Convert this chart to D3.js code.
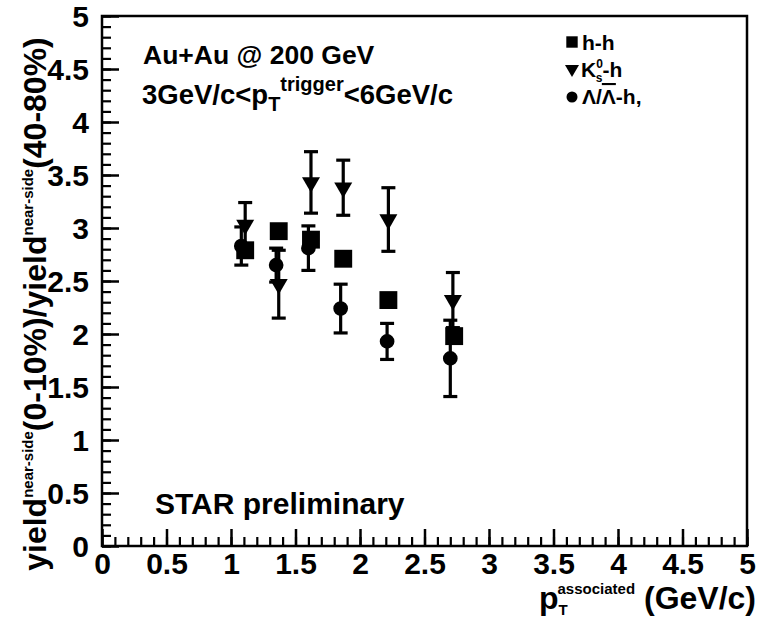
<!DOCTYPE html>
<html><head><meta charset="utf-8">
<script src="https://cdn.jsdelivr.net/npm/d3@7"></script>
<style>
body{margin:0;background:#fff;}
text{font-family:"Liberation Sans",Arial,sans-serif;font-weight:bold;fill:#000;}
</style></head>
<body><svg id="c" width="762" height="618"></svg>
<script>
// data
const xMajorTicks=[0,0.5,1,1.5,2,2.5,3,3.5,4,4.5,5];
const yMajorTicks=[0,0.5,1,1.5,2,2.5,3,3.5,4,4.5,5];
const xMinorTicks=d3.range(0,5.001,0.1);
const yMinorTicks=d3.range(0,5.001,0.1);
const hhX=[1.11,1.37,1.62,1.87,2.22,2.73];
const hhY=[2.79,2.97,2.89,2.71,2.32,1.98];
const k0X=[1.11,1.37,1.62,1.87,2.22,2.72];
const k0Y=[3.03,2.47,3.43,3.38,3.08,2.32];
const k0Err=[0.21,0.32,0.29,0.26,0.30,0.26];
const lamX=[1.08,1.35,1.60,1.85,2.21,2.70];
const lamY=[2.83,2.65,2.81,2.24,1.93,1.77];
const lamErr=[0.18,0.16,0.21,0.23,0.17,0.36];

const svg=d3.select("#c");
svg.append("rect").attr("width",762).attr("height",618).attr("fill","#fff");
const x=d3.scaleLinear().domain([0,5]).range([102,747]);
const y=d3.scaleLinear().domain([0,5]).range([546,16]);

// frame
svg.append("rect").attr("x",x(0)).attr("y",y(5)).attr("width",x(5)-x(0)).attr("height",y(0)-y(5))
  .attr("fill","none").attr("stroke","#000").attr("stroke-width",2.5);

function styleAxis(g,sw){g.select(".domain").remove();g.selectAll(".tick line").attr("stroke","#000").attr("stroke-width",sw);}
// x minor
svg.append("g").attr("transform",`translate(0,${y(0)})`)
  .call(d3.axisBottom(x).tickValues(xMinorTicks).tickSize(-9).tickFormat(""))
  .call(g=>styleAxis(g,2.2));
// x major
svg.append("g").attr("transform",`translate(0,${y(0)})`)
  .call(d3.axisBottom(x).tickValues(xMajorTicks).tickSize(-17).tickFormat(d=>String(d)))
  .call(g=>{styleAxis(g,2.5);g.selectAll(".tick text").attr("y",28).attr("dy",0).style("font-size","30px").style("font-family","Liberation Sans,Arial").style("font-weight","bold");});
// y minor
svg.append("g").attr("transform",`translate(${x(0)},0)`)
  .call(d3.axisLeft(y).tickValues(yMinorTicks).tickSize(-9).tickFormat(""))
  .call(g=>styleAxis(g,2.2));
// y major
svg.append("g").attr("transform",`translate(${x(0)},0)`)
  .call(d3.axisLeft(y).tickValues(yMajorTicks).tickSize(-17).tickFormat(d=>String(d)))
  .call(g=>{styleAxis(g,2.5);g.selectAll(".tick text").attr("x",-13).attr("dy","0.36em").style("font-size","30px").style("font-family","Liberation Sans,Arial").style("font-weight","bold");});

// error bars
function errBars(X,Y,E){
  const g=svg.append("g");
  X.forEach((xv,i)=>{
    const cx=x(xv),top=y(Y[i]+E[i]),bot=y(Y[i]-E[i]);
    g.append("line").attr("x1",cx).attr("x2",cx).attr("y1",top).attr("y2",bot).attr("stroke","#000").attr("stroke-width",3.2);
    g.append("line").attr("x1",cx-7).attr("x2",cx+7).attr("y1",top).attr("y2",top).attr("stroke","#000").attr("stroke-width",3.2);
    g.append("line").attr("x1",cx-7).attr("x2",cx+7).attr("y1",bot).attr("y2",bot).attr("stroke","#000").attr("stroke-width",3.2);
  });
}
errBars(k0X,k0Y,k0Err);
errBars(lamX,lamY,lamErr);

const sq=d3.symbol().type(d3.symbolSquare).size(320);
const tri=d3.symbol().type(d3.symbolTriangle).size(140);
const dia=d3.symbol().type(d3.symbolCircle).size(170);
svg.append("g").selectAll("path").data(hhX).join("path")
  .attr("d",sq).attr("transform",(d,i)=>`translate(${x(d)},${y(hhY[i])})`).attr("fill","#000");
svg.append("g").selectAll("path").data(k0X).join("path")
  .attr("d",tri).attr("transform",(d,i)=>`translate(${x(d)},${y(k0Y[i])}) rotate(180)`).attr("fill","#000");
svg.append("g").selectAll("path").data(lamX).join("path")
  .attr("d",dia).attr("transform",(d,i)=>`translate(${x(d)},${y(lamY[i])})`).attr("fill","#000");

// annotations
svg.append("text").attr("x",143).attr("y",64).style("font-size","26.5px").text("Au+Au @ 200 GeV");
const t2=svg.append("text").attr("x",142).attr("y",104).style("font-size","27.5px");
t2.append("tspan").text("3GeV/c<p");
t2.append("tspan").attr("dy",7).style("font-size","20px").text("T");
t2.append("tspan").attr("dy",-20).style("font-size","20px").text("trigger");
t2.append("tspan").attr("dy",13).text("<6GeV/c");
svg.append("text").attr("x",155).attr("y",514).style("font-size","30px").text("STAR preliminary");

// legend
svg.append("path").attr("d",d3.symbol().type(d3.symbolSquare).size(130)).attr("transform","translate(572,42)").attr("fill","#000");
svg.append("text").attr("x",582).attr("y",50).style("font-size","21px").text("h-h");
svg.append("path").attr("d",d3.symbol().type(d3.symbolTriangle).size(85)).attr("transform","translate(572,69) rotate(180)").attr("fill","#000");
const l2=svg.append("text").attr("x",581).attr("y",77).style("font-size","21px");
l2.append("tspan").text("K");
l2.append("tspan").attr("dy",-9).style("font-size","12px").text("0");
l2.append("tspan").attr("dx",-7).attr("dy",14).style("font-size","12px").text("s");
l2.append("tspan").attr("dy",-5).text("-h");
svg.append("circle").attr("cx",572).attr("cy",97).attr("r",5.5).attr("fill","#000");
const l3=svg.append("text").attr("x",582).attr("y",104).style("font-size","21px");
l3.append("tspan").text("Λ/");
l3.append("tspan").style("text-decoration","overline").text("Λ");
l3.append("tspan").text("-h,");

// axis titles
const yt=svg.append("text").attr("transform","translate(46,304) rotate(-90)").attr("text-anchor","middle").style("font-size","32px");
yt.append("tspan").text("yield");
yt.append("tspan").attr("dy",-13).style("font-size","15px").text("near-side");
yt.append("tspan").attr("dy",13).text("(0-10%)/yield");
yt.append("tspan").attr("dy",-13).style("font-size","15px").text("near-side");
yt.append("tspan").attr("dy",13).text("(40-80%)");

const xt=svg.append("text").attr("x",756).attr("y",609).attr("text-anchor","end").style("font-size","32px");
xt.append("tspan").text("p");
xt.append("tspan").attr("dy",6).style("font-size","15px").text("T");
xt.append("tspan").attr("dx",-9).attr("dy",-21).style("font-size","15px").text("associated");
xt.append("tspan").attr("dy",15).text(" (GeV/c)");
</script></body></html>
